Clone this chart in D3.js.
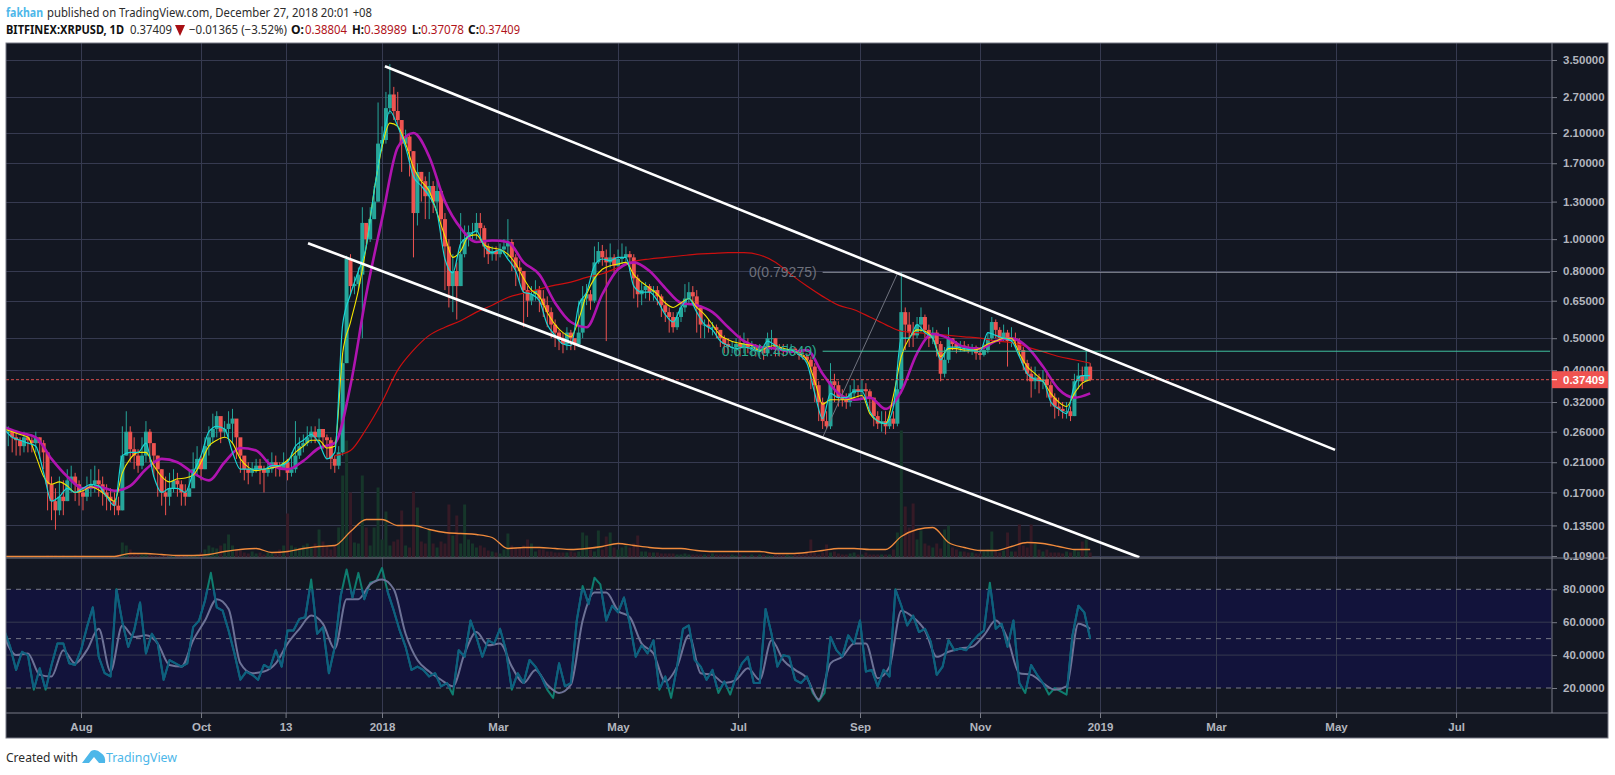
<!DOCTYPE html>
<html>
<head>
<meta charset="utf-8">
<script src="https://cdnjs.cloudflare.com/ajax/libs/d3/7.8.5/d3.min.js"></script>
<style>
  body { margin: 0; background: #fff; }
  svg { display: block; }
  .ax text { font-family: "Liberation Sans", Arial, sans-serif; font-size: 11.5px; font-weight: bold; fill: #b2b5be; }
  .ax line { stroke: #787b86; }
  .ax path { display: none; }
  .head { font-family: "Noto Sans", sans-serif; font-size: 12px; }
</style>
</head>
<body>
<div id="chart"></div>
<script>
// last bar of the chart, everything below is read backwards from it
const lastDay = new Date(Date.UTC(2018, 11, 27));

// candles, one every 2 days (Jun 2017 -> Dec 2018)
const closes = [
  .26,.25,.245,.235,.25,.245,.24,.25,.24,.225,
  .18,.16,.15,.165,.16,.185,.19,.18,.17,.165,
  .175,.18,.185,.18,.17,.165,.16,.155,.15,.22,
  .26,.23,.22,.205,.22,.26,.24,.22,.2,.17,
  .165,.175,.185,.18,.17,.165,.175,.2,.215,.2,
  .235,.25,.265,.29,.26,.265,.275,.285,.25,.22,
  .2,.195,.2,.205,.2,.195,.2,.21,.205,.2,
  .21,.195,.2,.22,.235,.24,.25,.26,.25,.265,
  .25,.245,.215,.205,.225,.42,.87,.72,.73,.78,
  1.12,1.0,1.15,1.3,1.95,2.0,2.5,2.75,2.45,2.3,
  1.95,2.05,1.85,1.2,1.6,1.5,1.35,1.45,1.3,1.4,
  1.15,.95,.72,.8,.72,.9,1.0,1.05,1.05,1.12,
  1.08,.95,.9,.92,.9,.93,.95,.98,.88,.82,
  .8,.7,.65,.68,.7,.66,.63,.6,.55,.52,
  .5,.48,.52,.5,.48,.52,.66,.68,.65,.85,
  .92,.88,.85,.88,.83,.87,.88,.9,.88,.76,
  .68,.7,.72,.69,.7,.67,.63,.6,.58,.54,
  .58,.62,.66,.69,.67,.62,.55,.55,.54,.54,
  .53,.5,.48,.47,.47,.48,.47,.48,.47,.47,
  .46,.465,.45,.5,.5,.47,.465,.46,.46,.465,
  .46,.445,.44,.43,.41,.36,.32,.28,.27,.37,
  .36,.33,.325,.32,.34,.35,.345,.35,.345,.33,
  .29,.275,.28,.27,.285,.275,.35,.6,.55,.52,
  .51,.55,.58,.53,.5,.52,.48,.39,.43,.5,
  .48,.47,.475,.47,.465,.47,.45,.445,.46,.5,
  .56,.53,.5,.52,.49,.5,.49,.46,.42,.39,
  .37,.38,.37,.375,.36,.33,.31,.305,.3,.3,
  .29,.37,.385,.37,.41,.374
];
const highs = [
  .27,.265,.26,.25,.26,.255,.25,.26,.25,.245,
  .2,.19,.175,.19,.185,.2,.205,.195,.185,.175,
  .19,.2,.205,.2,.19,.18,.175,.17,.165,.27,
  .3,.27,.25,.23,.25,.28,.265,.24,.22,.2,
  .19,.195,.2,.195,.185,.18,.2,.225,.235,.22,
  .25,.27,.295,.3,.285,.28,.3,.305,.27,.24,
  .21,.21,.21,.215,.215,.205,.215,.225,.22,.21,
  .225,.215,.225,.28,.25,.255,.27,.27,.27,.285,
  .26,.255,.25,.22,.235,.45,.89,.9,.77,.82,
  1.25,1.1,1.25,1.45,2.6,2.2,2.8,3.4,2.9,2.8,
  2.3,2.15,2.1,1.85,1.7,1.6,1.55,1.6,1.5,1.5,
  1.4,1.2,1.0,.9,.85,1.2,1.1,1.1,1.12,1.2,
  1.2,1.1,.97,.95,.95,.97,1.0,1.15,1.0,.9,
  .86,.8,.72,.72,.75,.72,.7,.67,.62,.57,
  .53,.52,.54,.53,.5,.65,.72,.73,.7,.95,
  .98,.96,.93,.97,.9,.93,.97,.95,.92,.9,
  .78,.74,.74,.73,.72,.72,.68,.65,.62,.6,
  .6,.64,.73,.74,.72,.7,.63,.57,.57,.56,
  .55,.53,.51,.5,.49,.5,.51,.52,.5,.49,
  .48,.48,.47,.52,.53,.5,.48,.48,.48,.48,
  .47,.46,.46,.45,.44,.42,.37,.33,.3,.42,
  .39,.37,.35,.34,.36,.375,.36,.375,.365,.35,
  .33,.3,.3,.3,.3,.3,.38,.795,.62,.6,
  .56,.58,.62,.59,.55,.54,.53,.49,.47,.54,
  .5,.49,.49,.49,.48,.48,.475,.46,.48,.52,
  .58,.57,.54,.55,.53,.54,.52,.5,.47,.43,
  .41,.41,.39,.4,.39,.37,.34,.33,.32,.32,
  .31,.39,.42,.41,.465,.42
];
const lows = [
  .235,.225,.22,.22,.225,.225,.225,.225,.215,.2,
  .15,.14,.131,.145,.145,.16,.17,.16,.155,.15,
  .16,.165,.17,.165,.155,.15,.15,.145,.145,.15,
  .22,.21,.2,.195,.2,.21,.21,.19,.165,.155,
  .145,.155,.17,.165,.155,.155,.165,.18,.19,.185,
  .2,.22,.24,.25,.24,.25,.25,.24,.215,.195,
  .185,.18,.19,.195,.18,.17,.19,.195,.19,.19,
  .2,.185,.19,.195,.215,.225,.235,.24,.24,.24,
  .23,.215,.2,.195,.2,.22,.42,.68,.68,.7,
  .5,.95,.98,1.15,1.3,1.85,1.95,2.4,2.3,2.2,
  1.6,1.9,1.55,.88,1.1,1.3,1.15,1.15,1.2,1.2,
  1.0,.7,.62,.6,.57,.72,.88,.95,.98,1.0,
  .98,.88,.84,.86,.86,.88,.9,.88,.8,.72,
  .74,.54,.58,.63,.65,.6,.58,.54,.5,.47,
  .46,.45,.46,.46,.46,.47,.5,.63,.61,.64,
  .84,.83,.49,.82,.79,.82,.84,.85,.8,.66,
  .62,.63,.66,.65,.65,.63,.58,.56,.52,.52,
  .53,.56,.6,.63,.63,.52,.5,.5,.52,.51,
  .5,.47,.45,.45,.45,.44,.44,.45,.45,.44,
  .44,.44,.43,.44,.46,.44,.44,.44,.45,.45,
  .445,.43,.43,.42,.35,.32,.28,.265,.265,.265,
  .32,.31,.31,.305,.31,.33,.33,.33,.325,.3,
  .27,.265,.26,.255,.265,.265,.27,.34,.46,.47,
  .47,.5,.52,.5,.47,.48,.44,.37,.38,.42,
  .46,.45,.455,.455,.45,.445,.43,.43,.44,.45,
  .49,.5,.48,.49,.41,.47,.47,.44,.4,.37,
  .33,.35,.34,.35,.33,.31,.285,.29,.285,.285,
  .28,.29,.35,.35,.37,.37
];
const volumes = [
  1,1,1,1,1,1,1,1,1,1,
  2,2,2,1,2,1,1,2,1,2,
  1,1,1,1,1,1,1,1,3,15,
  12,8,5,4,3,4,3,2,2,2,
  2,1,2,1,2,1,2,2,3,5,
  8,12,10,9,12,14,23,12,8,7,
  5,4,6,4,5,3,5,4,4,8,
  12,44,12,10,9,12,14,10,14,28,
  16,12,8,12,30,82,117,65,15,14,
  82,30,12,30,70,18,46,12,16,18,
  47,12,10,66,50,16,14,28,14,10,
  16,14,53,22,42,14,53,18,14,10,
  12,10,7,6,5,4,8,24,12,10,
  10,12,18,14,6,8,8,6,6,5,
  5,5,5,6,5,6,25,22,8,6,
  27,8,21,25,10,8,10,12,10,14,
  22,6,6,5,5,5,4,4,4,4,
  3,3,4,3,3,3,3,3,3,4,
  3,3,3,3,3,2,3,2,2,3,
  2,3,3,2,2,3,3,3,3,2,
  3,4,3,6,18,5,3,5,13,5,
  6,4,3,3,4,5,3,3,5,3,
  3,3,3,3,3,8,25,127,51,30,
  54,18,27,14,12,10,14,9,28,32,
  10,8,6,6,5,5,4,4,6,8,
  26,6,5,7,25,6,6,33,12,10,
  33,14,8,6,8,5,5,5,4,6,
  5,8,6,16,18,5
];

// fast / slow averages, one value every 4 days
const cyanLine = [
  .265,.25,.245,.24,.235,.195,.16,.165,.175,.17,
  .175,.18,.178,.165,.155,.22,.225,.225,.24,.19,
  .17,.175,.175,.17,.195,.22,.26,.27,.265,.225,
  .2,.2,.2,.2,.205,.205,.21,.235,.245,.255,
  .24,.215,.225,.55,.68,.8,.95,1.4,1.95,2.45,
  2.2,1.9,1.55,1.45,1.35,1.2,.87,.79,.97,1.02,
  1.06,.95,.91,.93,.87,.8,.69,.68,.65,.55,
  .51,.48,.475,.63,.69,.83,.87,.86,.88,.88,
  .72,.69,.69,.65,.59,.56,.62,.66,.6,.55,
  .53,.49,.475,.465,.47,.465,.455,.49,.475,.46,
  .46,.445,.42,.34,.285,.34,.33,.33,.345,.345,
  .3,.28,.275,.31,.5,.5,.55,.52,.5,.43,
  .47,.47,.465,.46,.455,.52,.51,.5,.49,.44,
  .39,.375,.37,.32,.305,.295,.36,.385,.385
];
const yellowLine = [
  .265,.26,.255,.25,.22,.19,.18,.183,.178,.17,
  .172,.177,.173,.166,.16,.195,.215,.225,.225,.205,
  .19,.183,.187,.188,.192,.21,.235,.245,.25,.24,
  .215,.203,.198,.2,.202,.205,.213,.225,.235,.245,
  .245,.232,.235,.45,.56,.7,.95,1.4,1.9,2.25,
  2.2,1.95,1.65,1.5,1.4,1.2,1.02,.88,.92,1.02,
  1.03,.96,.94,.93,.9,.84,.76,.7,.67,.6,
  .55,.52,.505,.57,.68,.76,.81,.83,.84,.85,
  .78,.74,.71,.68,.64,.62,.64,.66,.62,.59,
  .55,.51,.495,.485,.48,.475,.458,.47,.475,.465,
  .46,.45,.43,.37,.315,.325,.325,.325,.33,.335,
  .295,.28,.275,.335,.44,.5,.53,.525,.5,.44,
  .465,.465,.46,.46,.465,.48,.49,.5,.5,.45,
  .41,.39,.37,.34,.32,.31,.34,.365,.374
];

// slow averages and the volume average, one value every 8 days
const magentaLine = [
  .268,.258,.25,.215,.19,.175,.177,.172,.178,.2,
  .215,.21,.195,.185,.21,.232,.228,.205,.2,.212,
  .232,.24,.36,.68,1.15,1.9,2.1,1.78,1.3,1.08,
  .98,.99,.98,.85,.78,.64,.56,.54,.68,.81,
  .85,.8,.71,.64,.63,.6,.54,.49,.47,.465,
  .455,.46,.39,.34,.325,.33,.305,.345,.45,.515,
  .5,.47,.465,.49,.5,.47,.41,.35,.33,.34
];
const redLine = [
  .22,.228,.265,.32,.4,.46,.51,.54,.565,.6,
  .63,.665,.685,.705,.725,.74,.765,.785,.82,.855,
  .87,.88,.89,.9,.905,.91,.91,.895,.85,.78,
  .72,.67,.63,.61,.58,.55,.525,.52,.515,.51,
  .505,.5,.49,.485,.47,.455,.44,.43,.42
];
const volumeAvg = [
  1,1,1,1,1,1,1,1,4,4,
  3,2,2,3,6,8,9,5,6,9,
  11,12,26,38,38,32,32,28,25,24,
  23,20,9,10,10,9,8,9,11,14,
  12,10,9,9,7,6,6,6,6,4,
  4,5,7,9,9,8,8,21,28,30,
  15,10,7,7,11,15,14,11,8,8
];

// RSI every 3 days, its average every 6 days
const rsiValues = [
  55,45,31,42,40,19,32,19,34,47,
  47,35,34,43,57,69,39,29,27,80,
  60,45,55,72,41,53,47,25,37,35,
  33,35,57,61,73,90,69,67,55,41,
  25,30,28,25,34,32,43,33,55,55,
  62,63,86,53,57,29,45,76,92,75,
  90,74,84,85,93,78,67,55,45,31,
  33,31,27,29,21,23,16,43,39,61,
  51,39,49,47,
  56,43,19,29,23,37,33,27,19,14,
  35,21,23,61,82,71,87,83,61,70,
  66,75,59,39,46,41,49,19,27,14,
  33,56,58,37,33,25,31,17,24,16,
  27,35,39,23,23,68,53,33,40,39,
  25,
  23,27,17,12,17,51,43,39,52,47,
  61,30,31,21,31,27,80,70,58,64,
  54,56,48,28,33,49,43,44,43,48,
  52,55,84,56,59,45,61,23,17,34,
  28,23,16,20,18,16,52,70,66,50
];
const rsiAvg = [
  51,40,41,28,27,43,35,43,56,30,
  58,51,52,47,34,33,49,61,74,68,
  35,29,30,35,47,56,64,59,44,74,
  74,83,86,80,53,37,30,25,21,41,
  54,46,
  47,33,23,31,22,17,22,61,78,78,
  67,63,47,41,24,33,52,29,28,23,
  25,32,25,49,37,31,
  26,13,35,39,47,47,26,33,67,63,
  55,39,42,44,45,52,61,50,29,28,
  23,19,21,59,56
];

// drawings, days counted from 1 Jan 2018
const upperDays = [1.5, 484.5];
const upperPrices = [3.35, .229];
const lowerDays = [-37.6, 385];
const lowerPrices = [.972, .108];
const fibDays = [224, 262.3];
const fibPrices = [.25, .79275];
const fibLevels = [.79275, .45649];
const fibLabels = ["0(0.79275)", "0.618(0.45649)"];

const priceTicks = [3.5, 2.7, 2.1, 1.7, 1.3, 1, .8, .65, .5, .4, .32, .26, .21, .17, .135, .109];
const rsiTicks = [20, 40, 60, 80];
const rsiDashed = [20, 50, 80];
const timeTicks = [
  [2017,7,1],[2017,9,1],[2017,10,13],[2018,0,1],[2018,2,1],[2018,4,1],
  [2018,6,1],[2018,8,1],[2018,10,1],[2019,0,1],[2019,2,1],[2019,4,1],[2019,6,1]
].map(d => new Date(Date.UTC(d[0], d[1], d[2])));
const timeLabels = ["Aug","Oct","13","2018","Mar","May","Jul","Sep","Nov","2019","Mar","May","Jul"];
const lastPrice = .37409;

const width = 1615;
const height = 775;
const pane = {left: 6, right: 1552, edge: 1608, top: 43, split: 558, rsiBottom: 713, bottom: 738};
const bg = "#131722";
const upCol = "#26a69a";
const downCol = "#ef5350";

const svg = d3.select("#chart")
    .append("svg")
    .attr("width", width)
    .attr("height", height);

// scales
const jan2018 = new Date(Date.UTC(2018, 0, 1));
const x = d3.scaleUtc()
    .domain([jan2018, new Date(Date.UTC(2019, 0, 1))])
    .range([382, 1100]);
const y = d3.scaleLog()
    .domain([.109, 3.5])
    .range([556, 60]);
const yRsi = d3.scaleLinear()
    .domain([20, 80])
    .range([688, 589.3]);
const yVol = d3.scaleLinear()
    .domain([0, 127])
    .range([557.5, 430.5]);

function backDates(n, step) {
    return d3.range(n).map(k => d3.utcDay.offset(lastDay, -(n - 1 - k) * step));
}
function fromJan(d) {
    return new Date(+jan2018 + d * 864e5);
}

// background
svg.append("rect")
    .attr("x", pane.left).attr("y", pane.top)
    .attr("width", pane.edge - pane.left).attr("height", pane.bottom - pane.top)
    .attr("fill", bg);

const defs = svg.append("defs");
defs.append("clipPath").attr("id", "mainClip").append("rect")
    .attr("x", pane.left).attr("y", pane.top)
    .attr("width", pane.right - pane.left).attr("height", pane.split - pane.top);
defs.append("clipPath").attr("id", "rsiClip").append("rect")
    .attr("x", pane.left).attr("y", pane.split)
    .attr("width", pane.right - pane.left).attr("height", pane.rsiBottom - pane.split);
defs.append("clipPath").attr("id", "rsiBand").append("rect")
    .attr("x", pane.left).attr("y", yRsi(80))
    .attr("width", pane.right - pane.left).attr("height", yRsi(20) - yRsi(80));

// rsi band
svg.append("rect")
    .attr("x", pane.left).attr("y", yRsi(80))
    .attr("width", pane.right - pane.left).attr("height", yRsi(20) - yRsi(80))
    .attr("fill", "#12133b");

// grid
const gridCol = "#363a50";
svg.append("g").selectAll("line")
    .data(priceTicks)
    .enter()
    .append("line")
        .attr("x1", pane.left).attr("x2", pane.right)
        .attr("y1", d => Math.round(y(d)) + .5).attr("y2", d => Math.round(y(d)) + .5)
        .attr("stroke", gridCol);
svg.append("g").selectAll("line")
    .data(timeTicks)
    .enter()
    .append("line")
        .attr("x1", d => Math.round(x(d)) + .5).attr("x2", d => Math.round(x(d)) + .5)
        .attr("y1", pane.top).attr("y2", pane.rsiBottom)
        .attr("stroke", gridCol);
svg.append("g").selectAll("line")
    .data([40, 60])
    .enter()
    .append("line")
        .attr("x1", pane.left).attr("x2", pane.right)
        .attr("y1", d => yRsi(d)).attr("y2", d => yRsi(d))
        .attr("stroke", gridCol);
svg.append("g").selectAll("line")
    .data(rsiDashed)
    .enter()
    .append("line")
        .attr("x1", pane.left).attr("x2", pane.right)
        .attr("y1", d => yRsi(d)).attr("y2", d => yRsi(d))
        .attr("stroke", "#787b86")
        .attr("stroke-dasharray", "5,5");

const main = svg.append("g").attr("clip-path", "url(#mainClip)");
const barDates = backDates(closes.length, 2);
const rows = closes.map((c, i) => ({
    date: barDates[i],
    open: i ? closes[i - 1] : c,
    close: c,
    high: highs[i],
    low: lows[i],
    vol: volumes[i]
}));

// volume
main.append("g").selectAll("rect")
    .data(rows)
    .enter()
    .append("rect")
        .attr("x", d => x(d.date) - 1.5)
        .attr("y", d => yVol(d.vol))
        .attr("width", 3)
        .attr("height", d => yVol(0) - yVol(d.vol))
        .attr("fill", d => d.close >= d.open ? "#16362a" : "#351a26");

// candles
const candleCol = d => d.close >= d.open ? upCol : downCol;
main.append("g").selectAll("line")
    .data(rows)
    .enter()
    .append("line")
        .attr("x1", d => x(d.date)).attr("x2", d => x(d.date))
        .attr("y1", d => y(d.high)).attr("y2", d => y(d.low))
        .attr("stroke", candleCol);
main.append("g").selectAll("rect")
    .data(rows)
    .enter()
    .append("rect")
        .attr("x", d => x(d.date) - 2)
        .attr("y", d => Math.min(y(d.open), y(d.close)))
        .attr("width", 4)
        .attr("height", d => Math.max(1, Math.abs(y(d.open) - y(d.close))))
        .attr("fill", candleCol);

// moving averages
function drawLine(parent, vals, step, yScale, col, w, smooth) {
    const dates = backDates(vals.length, step);
    const line = d3.line()
        .curve(smooth ? d3.curveMonotoneX : d3.curveLinear)
        .x((d, i) => x(dates[i]))
        .y(d => yScale(d));
    return parent.append("path")
        .attr("d", line(vals))
        .attr("fill", "none")
        .attr("stroke", col)
        .attr("stroke-width", w)
        .attr("stroke-linejoin", "round");
}
drawLine(main, redLine, 8, y, "#cc0f0f", 1.2, true);
drawLine(main, magentaLine, 8, y, "#b014b0", 2.6, true);
drawLine(main, yellowLine, 4, y, "#f5e600", 1.1, true);
drawLine(main, cyanLine, 4, y, "#19d6d6", 1.2, true);
drawLine(main, volumeAvg, 8, yVol, "#f08a3c", 1.3, true);

// last price
main.append("line")
    .attr("x1", pane.left).attr("x2", pane.right)
    .attr("y1", y(lastPrice)).attr("y2", y(lastPrice))
    .attr("stroke", downCol)
    .attr("stroke-width", .9)
    .attr("stroke-dasharray", "3,2");

// fib drawing
const fibCols = ["#8a8d99", "#3fbf9f"];
main.append("line")
    .attr("x1", x(fromJan(fibDays[0]))).attr("x2", x(fromJan(fibDays[1])))
    .attr("y1", y(fibPrices[0])).attr("y2", y(fibPrices[1]))
    .attr("stroke", "#70737f");
main.append("g").selectAll("line")
    .data(fibLevels)
    .enter()
    .append("line")
        .attr("x1", x(fromJan(fibDays[0]))).attr("x2", pane.right - 2)
        .attr("y1", d => y(d)).attr("y2", d => y(d))
        .attr("stroke", (d, i) => fibCols[i]);
main.append("g").selectAll("text")
    .data(fibLevels)
    .enter()
    .append("text")
        .attr("x", x(fromJan(fibDays[0])) - 6)
        .attr("y", d => y(d) + 5)
        .attr("text-anchor", "end")
        .style("font-family", "Liberation Sans, Arial, sans-serif")
        .style("font-size", "14px")
        .attr("fill", (d, i) => i ? "#2aa98e" : "#6e717c")
        .text((d, i) => fibLabels[i]);

// channel
[[upperDays, upperPrices], [lowerDays, lowerPrices]].forEach(function(c) {
    main.append("line")
        .attr("x1", x(fromJan(c[0][0]))).attr("x2", x(fromJan(c[0][1])))
        .attr("y1", y(c[1][0])).attr("y2", y(c[1][1]))
        .attr("stroke", "#ffffff")
        .attr("stroke-width", 2.6);
});

// rsi pane, the part outside the band turns green
const rsiPane = svg.append("g").attr("clip-path", "url(#rsiClip)");
drawLine(rsiPane, rsiValues, 3, yRsi, "#0f7d6f", 2);
drawLine(svg.append("g").attr("clip-path", "url(#rsiBand)"), rsiValues, 3, yRsi, "#0e5f80", 2);
drawLine(rsiPane, rsiAvg, 6, yRsi, "#6d7296", 2, true);

// axes
const priceAxis = d3.axisRight(y)
    .tickValues(priceTicks)
    .tickSize(5)
    .tickPadding(6)
    .tickFormat(d3.format(".5f"));
svg.append("g").attr("class", "ax")
    .attr("transform", `translate(${pane.right},0)`)
    .call(priceAxis);

const rsiAxis = d3.axisRight(yRsi)
    .tickValues(rsiTicks)
    .tickSize(5)
    .tickPadding(6)
    .tickFormat(d3.format(".4f"));
svg.append("g").attr("class", "ax")
    .attr("transform", `translate(${pane.right},0)`)
    .call(rsiAxis);

const timeAxis = d3.axisBottom(x)
    .tickValues(timeTicks)
    .tickSize(5)
    .tickPadding(5)
    .tickFormat((d, i) => timeLabels[i]);
svg.append("g").attr("class", "ax")
    .attr("transform", `translate(0,${pane.rsiBottom})`)
    .call(timeAxis);

// frame
const frameCol = "#787b86";
[[pane.left, pane.split, pane.edge, pane.split],
 [pane.left, pane.rsiBottom, pane.edge, pane.rsiBottom],
 [pane.right, pane.top, pane.right, pane.rsiBottom]].forEach(function(l) {
    svg.append("line")
        .attr("x1", l[0]).attr("y1", l[1]).attr("x2", l[2]).attr("y2", l[3])
        .attr("stroke", frameCol);
});
svg.append("rect")
    .attr("x", pane.left).attr("y", pane.top)
    .attr("width", pane.edge - pane.left).attr("height", pane.bottom - pane.top)
    .attr("fill", "none")
    .attr("stroke", frameCol);

// last price tag
svg.append("rect")
    .attr("x", pane.right).attr("y", y(lastPrice) - 8.5)
    .attr("width", pane.edge - pane.right).attr("height", 17)
    .attr("fill", downCol);
svg.append("line")
    .attr("x1", pane.right).attr("x2", pane.right + 5)
    .attr("y1", y(lastPrice)).attr("y2", y(lastPrice))
    .attr("stroke", "#fff");
svg.append("text")
    .attr("x", pane.right + 11).attr("y", y(lastPrice) + 4)
    .style("font-family", "Liberation Sans, Arial, sans-serif")
    .style("font-size", "11.5px")
    .style("font-weight", "bold")
    .attr("fill", "#fff")
    .text(d3.format(".5f")(lastPrice));

// header and footer text
function label(px, py, txt, col, bold, w) {
    svg.append("text")
        .attr("class", "head")
        .attr("x", px).attr("y", py)
        .attr("fill", col)
        .attr("font-weight", bold ? "bold" : "normal")
        .attr("textLength", w)
        .attr("lengthAdjust", "spacingAndGlyphs")
        .text(txt);
}
const ink = "#2c2c2c";
const blue = "#4db7e9";
const dark = "#b0131a";
label(6, 17, "fakhan", blue, true, 37);
label(47, 17, "published on TradingView.com, December 27, 2018 20:01 +08", ink, false, 325);
label(6, 34, "BITFINEX:XRPUSD, 1D", "#111", true, 118);
label(130, 34, "0.37409", ink, false, 42);
svg.append("path")
    .attr("d", d3.line()([[175, 25], [185, 25], [180, 36]]))
    .attr("fill", "#a80f14");
label(189, 34, "\u22120.01365 (\u22123.52%)", ink, false, 98);
label(291, 34, "O:", "#111", true, 13);
label(305, 34, "0.38804", dark, false, 42);
label(352, 34, "H:", "#111", true, 12);
label(364, 34, "0.38989", dark, false, 43);
label(412, 34, "L:", "#111", true, 9);
label(421, 34, "0.37078", dark, false, 43);
label(468, 34, "C:", "#111", true, 11);
label(479, 34, "0.37409", dark, false, 41);

label(6, 762, "Created with", ink, false, 72);
label(106, 762, "TradingView", blue, false, 71);
svg.append("path")
    .attr("d", "M82 763 L91 751 Q96 748 101 753 Q106 756 105 763 L99 763 L94 757 L89 763 Z")
    .attr("fill", blue);
</script>
</body>
</html>
